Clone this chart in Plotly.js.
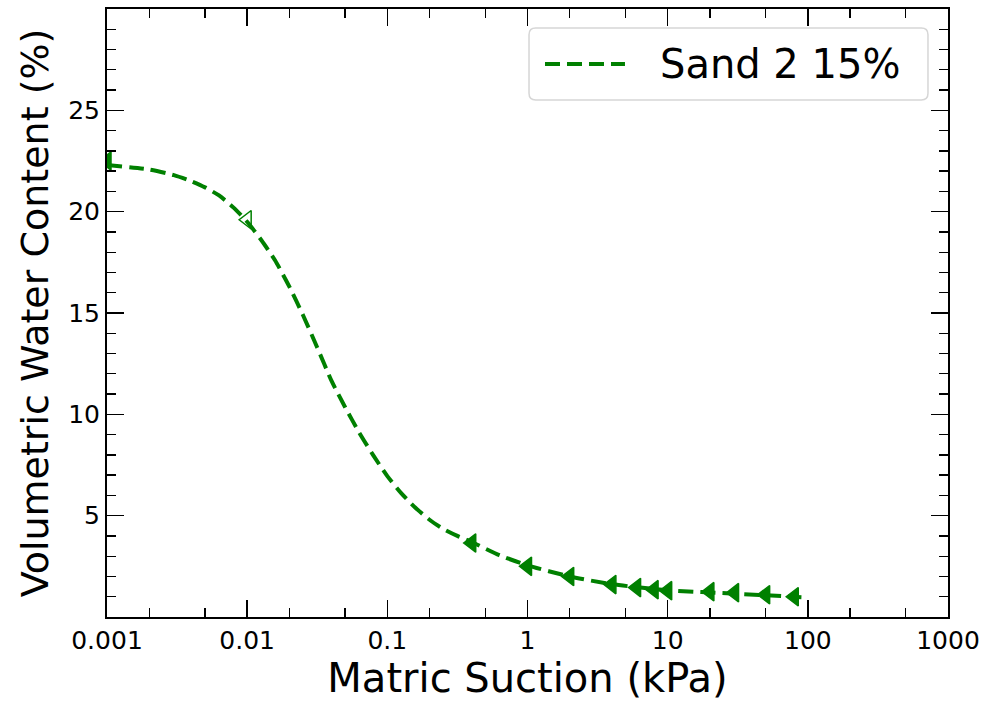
<!DOCTYPE html>
<html>
<head>
<meta charset="utf-8">
<script src="https://cdn.plot.ly/plotly-3.0.1.min.js"></script>
<style>html,body{margin:0;padding:0;background:#fff;}#chart{width:987px;height:703px;}</style>
</head>
<body>
<div id="chart"></div>
<script>
// fitted curve
const curveX = [0.001, 0.002, 0.003, 0.004, 0.005, 0.0063, 0.008, 0.01, 0.0126, 0.0158, 0.02, 0.025, 0.0316, 0.04, 0.05, 0.063, 0.079, 0.1, 0.126, 0.158, 0.2, 0.25, 0.316, 0.4, 0.63, 1, 2, 4, 10, 30, 90];
const curveY = [22.3, 22.08, 21.8, 21.5, 21.2, 20.8, 20.2, 19.5, 18.6, 17.6, 16.3, 14.9, 13.3, 11.65, 10.35, 9.1, 8.0, 6.95, 6.1, 5.4, 4.8, 4.35, 4.0, 3.7, 3.05, 2.55, 2.0, 1.62, 1.32, 1.15, 0.98];
// measured points
const pointX = [0.001, 0.01, 0.4, 1, 2, 4, 6, 8, 10, 20, 30, 50, 80];
const pointY = [22.5, 19.6, 3.65, 2.5, 2.0, 1.6, 1.45, 1.35, 1.3, 1.25, 1.2, 1.1, 1.0];
const xTickVals = [0.001, 0.01, 0.1, 1, 10, 100, 1000];
const xTickText = ['0.001', '0.01', '0.1', '1', '10', '100', '1000'];
const yTickVals = [5, 10, 15, 20, 25];
const seriesName = 'Sand 2 15%';

const green = '#008000';
const symbols = pointX.map((x, i) => i === 1 ? 'triangle-left-open' : 'triangle-left');
const dashStyle = '15px,7px';

const traces = [
  {
    x: curveX, y: curveY, type: 'scatter', mode: 'lines', name: seriesName, showlegend: false,
    line: {color: green, width: 4, dash: dashStyle, shape: 'spline', smoothing: 0.6}
  },
  {
    x: pointX, y: pointY, type: 'scatter', mode: 'markers', showlegend: false,
    marker: {color: green, symbol: symbols, size: 16, line: {color: green, width: 1.5}},
    cliponaxis: true
  }
];

const axisCommon = {
  showgrid: false, zeroline: false, showline: true, linecolor: '#000', linewidth: 2,
  mirror: 'ticks', ticks: 'inside', ticklen: 17, tickwidth: 1.6, tickcolor: '#000',
  tickfont: {family: 'DejaVu Sans', size: 25, color: '#000'}
};

// legend box (paper coordinates of the plot area)
const lx0 = 0.5018, lx1 = 0.9762, ly0 = 0.8503, ly1 = 0.9688, rx = 0.008, ry = 0.011;
const boxPath = `M${lx0+rx},${ly0} L${lx1-rx},${ly0} Q${lx1},${ly0} ${lx1},${ly0+ry} L${lx1},${ly1-ry} Q${lx1},${ly1} ${lx1-rx},${ly1} L${lx0+rx},${ly1} Q${lx0},${ly1} ${lx0},${ly1-ry} L${lx0},${ly0+ry} Q${lx0},${ly0} ${lx0+rx},${ly0} Z`;

const layout = {
  width: 987, height: 703,
  margin: {l: 107, r: 39, t: 9, b: 86},
  paper_bgcolor: '#fff', plot_bgcolor: '#fff',
  font: {family: 'DejaVu Sans', color: '#000'},
  showlegend: false,
  xaxis: Object.assign({}, axisCommon, {
    type: 'log', range: [-3, 3], tickvals: xTickVals, ticktext: xTickText,
    minor: {ticks: 'inside', ticklen: 9, tickwidth: 1.3, tickcolor: '#000', showgrid: false},
    title: {text: 'Matric Suction (kPa)', font: {family: 'DejaVu Sans', size: 40, color: '#000'}, standoff: 6}
  }),
  yaxis: Object.assign({}, axisCommon, {
    range: [0, 30], tickvals: yTickVals,
    minor: {dtick: 1, ticks: 'inside', ticklen: 9, tickwidth: 1.3, tickcolor: '#000', showgrid: false},
    title: {text: 'Volumetric Water Content (%)', font: {family: 'DejaVu Sans', size: 38, color: '#000'}, standoff: 8}
  }),
  shapes: [
    {type: 'path', xref: 'paper', yref: 'paper', path: boxPath, fillcolor: 'rgba(255,255,255,0.8)', line: {color: '#d6d6d6', width: 1.5}},
    {type: 'line', xref: 'paper', yref: 'paper', x0: 0.5208, x1: 0.6159, y0: 0.9095, y1: 0.9095, line: {color: green, width: 4, dash: dashStyle}}
  ],
  annotations: [
    {xref: 'paper', yref: 'paper', x: 0.6552, y: 0.9095, xanchor: 'left', yanchor: 'middle', showarrow: false,
     text: seriesName, font: {family: 'DejaVu Sans', size: 40, color: '#000'}}
  ]
};

Plotly.newPlot('chart', traces, layout, {displayModeBar: false, staticPlot: true});
</script>
</body>
</html>
